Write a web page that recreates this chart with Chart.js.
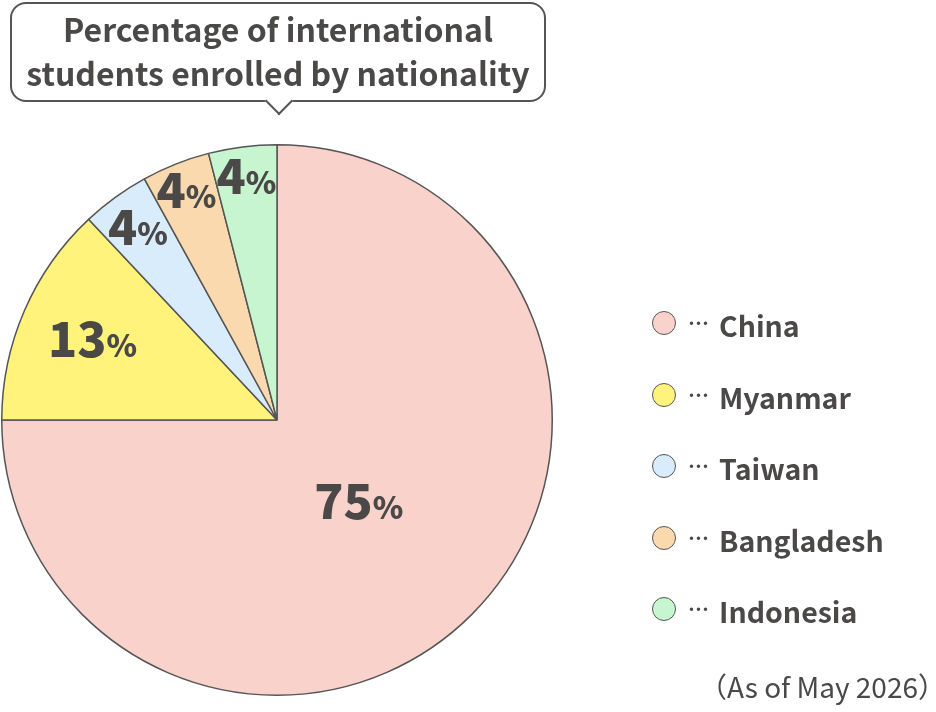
<!DOCTYPE html>
<html>
<head>
<meta charset="utf-8">
<script src="https://cdn.jsdelivr.net/npm/chart.js@4"></script>
<style>
  html, body { margin: 0; padding: 0; background: #fff; }
  body { width: 936px; height: 712px; position: relative; overflow: hidden;
         font-family: "Noto Sans CJK JP", "Noto Sans", sans-serif; color: #4b4848; }
  #myChart { position: absolute; left: 0; top: 0; }
  .bubble { position: absolute; left: 10px; top: 2px; width: 536px; height: 100px;
            border: 2px solid #555; border-radius: 16px; background: #fff;
            box-sizing: border-box; text-align: center; font-weight: 700;
            font-size: 32px; line-height: 44px; padding-top: 2px; white-space: nowrap; }
  .bubble:after { content: ""; position: absolute; left: 257px; bottom: -11px; width: 18px; height: 18px;
                  background: #fff; border-right: 2px solid #555; border-bottom: 2px solid #555;
                  transform: rotate(45deg); }
  .legend { position: absolute; left: 652px; top: 311px; margin: 0; padding: 0; list-style: none; }
  .legend li { height: 71.5px; display: flex; align-items: flex-start; font-weight: 700; font-size: 28.5px; line-height: 27px; }
  .legend .dot { width: 22px; height: 22px; border-radius: 50%; border: 1.5px solid #555; margin-right: 12px; }
  .legend .sep { font-size: 21px; margin-right: 10px; line-height: 22px; }
  .note { position: absolute; right: -10px; top: 666px; font-size: 28px; white-space: nowrap; }
</style>
</head>
<body>
<canvas id="myChart" width="936" height="712"></canvas>
<div class="bubble">Percentage of international<br>students enrolled by nationality</div>
<ul class="legend" id="legend"></ul>
<div class="note">（As of May 2026）</div>
<script>
var labels = ["China", "Myanmar", "Taiwan", "Bangladesh", "Indonesia"];
var values = [75, 13, 4, 4, 4];
var colors = ['#f9d2cb', '#fff37c', '#d9ecfb', '#f9d9ad', '#c6f5cf'];

// where each percentage sits, as a share of the radius
var labelRadius = [0.42, 0.73, 0.86, 0.895, 0.89];

var legend = document.getElementById("legend");
labels.forEach(function (name, i) {
  var li = document.createElement("li");
  li.innerHTML = '<span class="dot" style="background:' + colors[i] + '"></span>' +
                 '<span class="sep">…</span><span>' + name + '</span>';
  legend.appendChild(li);
});

var percentLabels = {
  id: 'percentLabels',
  afterDatasetsDraw: function (chart) {
    var ctx = chart.ctx;
    var arcs = chart.getDatasetMeta(0).data;
    var numFont = '900 48px "Noto Sans CJK JP"';
    var pctFont = '900 31px "Noto Sans CJK JP"';
    ctx.save();
    ctx.fillStyle = '#4b4848';
    ctx.textBaseline = 'alphabetic';
    arcs.forEach(function (arc, i) {
      var mid = (arc.startAngle + arc.endAngle) / 2;
      var r = arc.outerRadius * labelRadius[i];
      var cx = arc.x + Math.cos(mid) * r;
      var cy = arc.y + Math.sin(mid) * r;
      var num = String(values[i]);
      ctx.font = numFont;
      var wNum = ctx.measureText(num).width;
      ctx.font = pctFont;
      var wPct = ctx.measureText('%').width;
      var x = cx - (wNum + wPct) / 2;
      var base = cy + 17;
      ctx.font = numFont;
      ctx.fillText(num, x, base);
      ctx.font = pctFont;
      ctx.fillText('%', x + wNum, base);
    });
    ctx.restore();
  }
};

var ctx = document.getElementById("myChart");
var myChart = new Chart(ctx, {
  type: 'pie',
  data: {
    labels: labels,
    datasets: [{
      data: values,
      backgroundColor: colors,
      borderColor: '#555',
      borderWidth: 1.5
    }]
  },
  options: {
    responsive: false,
    animation: false,
    layout: {
      padding: { left: 1, top: 144, right: 383, bottom: 16 }
    },
    plugins: {
      legend: { display: false },
      tooltip: { enabled: false }
    }
  },
  plugins: [percentLabels]
});
</script>
</body>
</html>
